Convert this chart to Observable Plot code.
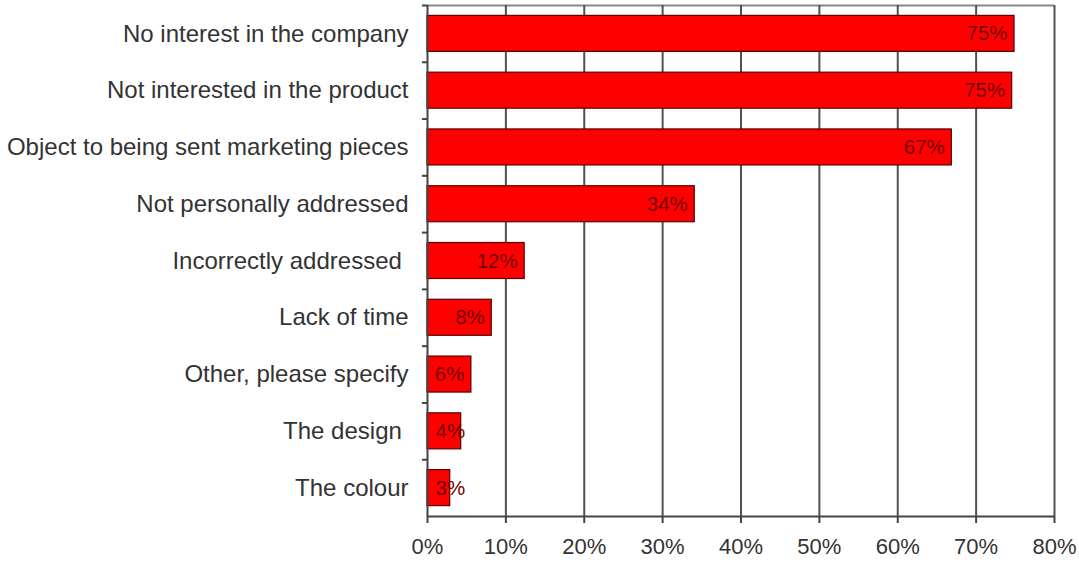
<!DOCTYPE html>
<html><head><meta charset="utf-8">
<script src="https://cdn.jsdelivr.net/npm/d3@7"></script>
<script src="https://cdn.jsdelivr.net/npm/@observablehq/plot@0.6"></script>
<style>
body{margin:0;background:#fff;}
svg{display:block;}
</style>
</head><body><div id="chart"></div>
<script>
const categories = [
  "No interest in the company",
  "Not interested in the product",
  "Object to being sent marketing pieces",
  "Not personally addressed",
  "Incorrectly addressed ",
  "Lack of time",
  "Other, please specify",
  "The design ",
  "The colour"
];
const values = [74.9, 74.6, 66.9, 34.1, 12.4, 8.2, 5.6, 4.3, 2.9];
const barLabels = ["75%", "75%", "67%", "34%", "12%", "8%", "6%", "4%", "3%"];
const xTicks = [0, 10, 20, 30, 40, 50, 60, 70, 80];

const data = categories.map((c, i) => ({category: c, value: values[i], label: barLabels[i]}));

const W = 1079, H = 565, mt = 5, mb = 49, ml = 427, mr = 25;
const step = (H - mt - mb) / categories.length;
const inset = step * 0.183;
const font = "'Liberation Sans', Arial, sans-serif";

const chart = Plot.plot({
  width: W, height: H,
  marginTop: mt, marginBottom: mb, marginLeft: ml, marginRight: mr,
  style: {fontFamily: font, color: "#333", background: "#fff"},
  x: {domain: [0, 80], ticks: xTicks},
  y: {domain: categories, padding: 0, round: false},
  marks: [
    // top frame
    Plot.ruleY([0], {y: () => categories[0], dy: -step / 2, x1: 0, x2: 80, stroke: "#888", strokeWidth: 2}),
    // vertical gridlines
    Plot.ruleX(xTicks.slice(1), {stroke: "#505050", strokeWidth: 2}),
    Plot.barX(data, {x: "value", y: "category", fill: "#ff0000", stroke: "#5a0000", strokeWidth: 1.2, insetTop: inset, insetBottom: inset}),
    Plot.text(data.filter(d => d.value >= 5), {x: "value", y: "category", text: "label", textAnchor: "end", dx: -7, fill: "#700000", fontSize: 20.5}),
    Plot.text(data.filter(d => d.value < 5), {x: 0, y: "category", text: "label", textAnchor: "start", dx: 8, fill: "#700000", fontSize: 20.5}),
    // left axis line and boundary ticks
    Plot.ruleX([0], {stroke: "#444", strokeWidth: 2}),
    Plot.ruleY(categories, {y: d => d, dy: -step / 2, x1: -0.65, x2: 0, stroke: "#444", strokeWidth: 2}),
    // bottom axis line
    Plot.ruleY([0], {y: () => categories[categories.length - 1], dy: step / 2, x1: 0, x2: 80, stroke: "#444", strokeWidth: 2}),
    Plot.axisX({ticks: xTicks, tickFormat: d => d + "%", tickSize: 7, tickPadding: 15, fontSize: 22, stroke: "#444", strokeWidth: 2, fill: "#333", label: null}),
    Plot.axisY({tickSize: 0, tickPadding: 19, fontSize: 24, fill: "#333", label: null})
  ]
});
document.getElementById("chart").appendChild(chart);
</script>
</body></html>
